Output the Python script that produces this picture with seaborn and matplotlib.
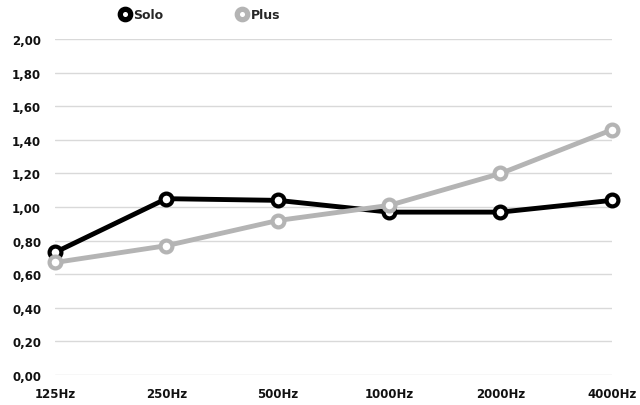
import pandas as pd
import matplotlib.pyplot as plt
import seaborn as sns
from matplotlib.ticker import FuncFormatter
from matplotlib.lines import Line2D

freqs = ["125Hz", "250Hz", "500Hz", "1000Hz", "2000Hz", "4000Hz"]
solo = [0.73, 1.05, 1.04, 0.97, 0.97, 1.04]
plus = [0.67, 0.77, 0.92, 1.01, 1.20, 1.46]

df = pd.DataFrame({
    "freq": freqs * 2,
    "value": solo + plus,
    "series": ["Solo"] * len(freqs) + ["Plus"] * len(freqs),
})

sns.set_style("white")
plt.rcParams['font.family'] = ['DejaVu Sans']

colors = {"Solo": "#000000", "Plus": "#b4b4b4"}

fig = plt.figure(figsize=(6.4, 4.06), dpi=100)
ax = fig.add_axes([0.086, 0.074, 0.870, 0.827])

sns.lineplot(data=df, x="freq", y="value", hue="series", palette=colors,
             sort=False, linewidth=3.5, marker="o", markersize=8.5,
             markerfacecolor="white", markeredgewidth=3, legend=False,
             ax=ax, clip_on=False, zorder=3)
for line in ax.lines:
    line.set_markeredgecolor(line.get_color())

ax.set_ylim(0, 2)
ax.set_xlim(0, len(freqs) - 1)
ax.set_yticks([i * 0.2 for i in range(11)])
ax.yaxis.set_major_formatter(FuncFormatter(lambda v, p: f"{v:.2f}".replace(".", ",")))
ax.grid(axis="y", color="#d9d9d9", linewidth=1)
ax.set_axisbelow(True)
for s in ax.spines.values():
    s.set_visible(False)
ax.tick_params(axis="both", length=0, labelsize=8.5, colors="#111111")
ax.tick_params(axis="x", pad=9)
ax.tick_params(axis="y", pad=10)
for lbl in ax.get_xticklabels() + ax.get_yticklabels():
    lbl.set_fontweight("bold")
ax.set_xlabel("")
ax.set_ylabel("")

handles = [Line2D([], [], linestyle="none", marker="o", markersize=7.5,
                  markerfacecolor="white", markeredgecolor=colors[k],
                  markeredgewidth=3.8) for k in ["Solo", "Plus"]]
leg = fig.legend(handles, ["Solo", "Plus"], loc="center", bbox_to_anchor=(0.307, 0.962),
                 ncol=2, frameon=False, handletextpad=-0.35, columnspacing=5.3,
                 prop={"weight": "bold", "size": 9})

fig.savefig("out.png", dpi=100)
